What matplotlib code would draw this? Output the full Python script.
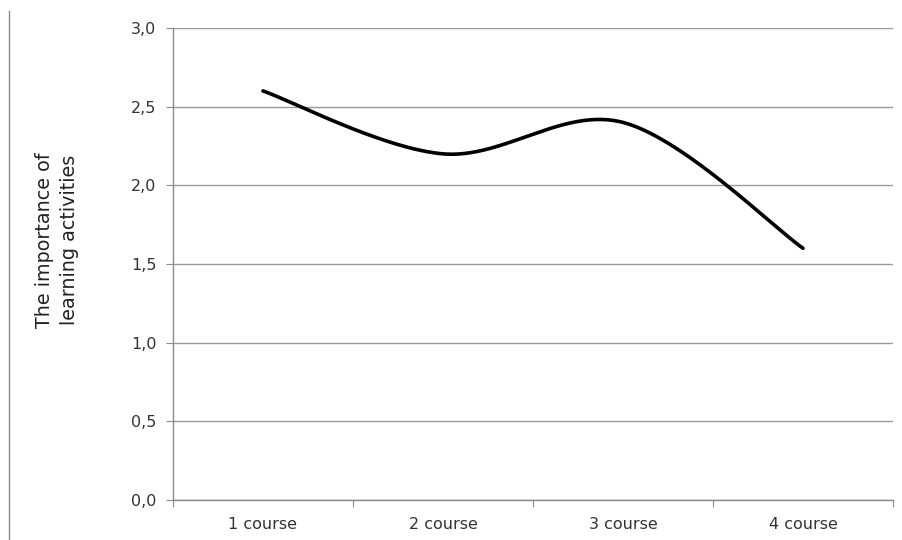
import numpy as np
import matplotlib
matplotlib.use("Agg")
import matplotlib.pyplot as plt
from matplotlib.lines import Line2D

categories = ["1 course", "2 course", "3 course", "4 course"]
values = [2.6, 2.2, 2.4, 1.6]
y_ticks = [0.0, 0.5, 1.0, 1.5, 2.0, 2.5, 3.0]
y_tick_labels = ["0,0", "0,5", "1,0", "1,5", "2,0", "2,5", "3,0"]

plt.rcParams['font.family'] = ['DejaVu Sans']

fig = plt.figure(figsize=(9.03, 5.40), dpi=100)
ax = fig.add_axes([173/903, 1-500/540, 720/903, 472/540])

# Excel-like smoothed line (Catmull-Rom / Bezier through data points)
xs = np.arange(len(values), dtype=float)
ys = np.array(values, dtype=float)
px = np.concatenate([[xs[0]], xs, [xs[-1]]])
py = np.concatenate([[ys[0]], ys, [ys[-1]]])
cx, cy = [], []
t = np.linspace(0, 1, 60)
for i in range(1, len(px) - 2):
    p0 = np.array([px[i], py[i]])
    p3 = np.array([px[i+1], py[i+1]])
    c1 = p0 + (np.array([px[i+1], py[i+1]]) - np.array([px[i-1], py[i-1]])) / 6
    c2 = p3 - (np.array([px[i+2], py[i+2]]) - np.array([px[i], py[i]])) / 6
    b = ((1-t)**3)[:, None]*p0 + (3*(1-t)**2*t)[:, None]*c1 + (3*(1-t)*t**2)[:, None]*c2 + (t**3)[:, None]*p3
    cx.extend(b[:, 0]); cy.extend(b[:, 1])
ax.plot(cx, cy, color="black", lw=2.6, solid_capstyle="round", zorder=3)

ax.set_xlim(-0.5, len(categories) - 0.5)
ax.set_ylim(0, 3.0)
ax.set_yticks(y_ticks)
ax.set_yticklabels(y_tick_labels)
ax.yaxis.grid(True, color="#9a9a9a", lw=1.0)
ax.set_axisbelow(True)

ax.set_xticks(np.arange(-0.5, len(categories)), minor=False)
ax.set_xticklabels([""] * (len(categories) + 1))
ax.set_xticks(xs, minor=True)
ax.set_xticklabels(categories, minor=True)
ax.tick_params(axis="x", which="minor", length=0, pad=12, labelsize=11.5, colors="#333333")
ax.tick_params(axis="x", which="major", length=5, color="#8a8a8a", direction="out")
ax.tick_params(axis="y", length=5, color="#8a8a8a", labelsize=11.5, labelcolor="#333333", pad=7)

for s in ["top", "right"]:
    ax.spines[s].set_visible(False)
for s in ["left", "bottom"]:
    ax.spines[s].set_color("#8a8a8a")
    ax.spines[s].set_linewidth(1.0)

fig.text(57/903, 1-240/540, "The importance of\nlearning activities", rotation=90,
         ha="center", va="center", fontsize=13.8, color="#222222", linespacing=1.4)

fig.add_artist(Line2D([9/903, 9/903], [0, 1-11/540], transform=fig.transFigure,
                      color="#8a8a8a", lw=1.0))

fig.savefig("out.png", dpi=100)
